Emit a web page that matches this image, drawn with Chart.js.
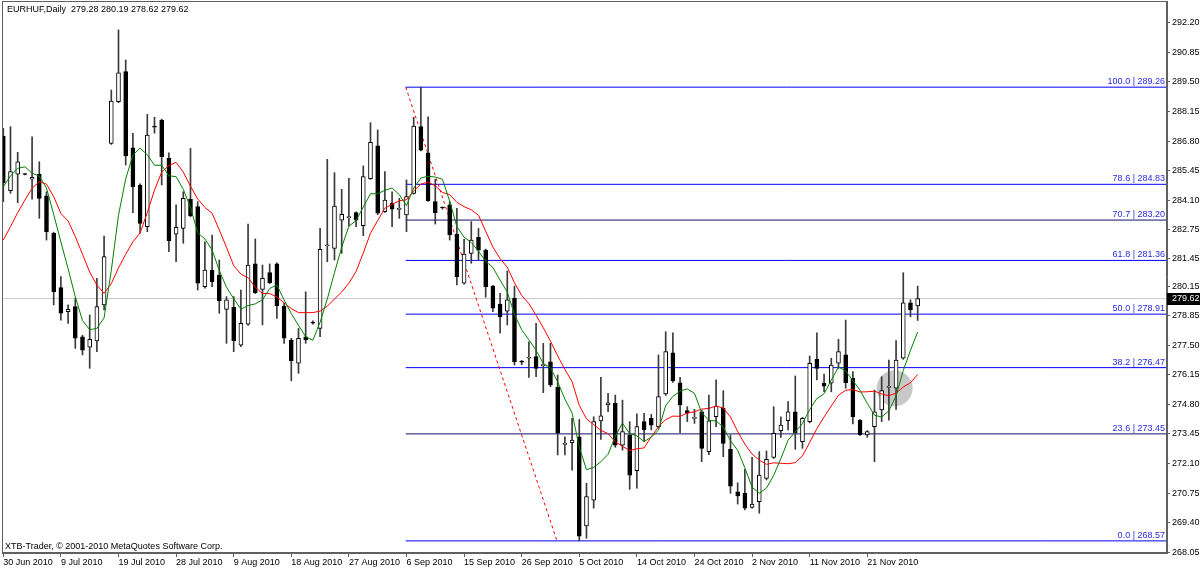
<!DOCTYPE html>
<html>
<head>
<meta charset="utf-8">
<script src="https://cdn.jsdelivr.net/npm/chart.js@4.4.0/dist/chart.umd.min.js"></script>
<style>
html, body { margin: 0; padding: 0; background: #fff; }
canvas { display: block; }
</style>
</head>
<body>
<canvas id="chart" width="1200" height="570"></canvas>
<script>
// EURHUF daily bars, one entry per bar (index 0 = 30 Jun 2010)
const open = [287.03,284.54,285.29,285.30,285.06,285.29,284.30,282.60,280.12,279.02,
  279.25,277.88,277.40,277.69,279.33,286.70,288.60,289.97,286.50,284.80,
  282.90,287.46,287.76,286.02,282.56,282.82,284.16,283.81,280.16,280.92,
  280.69,279.13,279.22,277.50,278.45,281.20,280.04,280.80,281.20,279.28,
  277.73,276.67,277.88,278.55,278.26,282.03,281.91,283.20,283.31,283.54,
  282.94,285.09,286.58,283.58,283.96,283.69,283.43,284.42,287.46,286.27,
  284.04,283.78,283.89,282.56,280.32,281.68,282.41,281.83,280.19,279.37,
  279.05,279.63,276.74,276.90,276.97,276.56,276.74,275.57,272.97,273.05,
  273.32,269.25,270.43,274.04,274.77,274.84,272.94,273.40,271.77,274.01,
  274.16,273.78,275.27,277.15,275.78,274.51,274.16,274.46,272.64,274.23,
  274.62,272.75,270.81,270.74,270.10,270.36,271.42,272.38,273.60,274.05,
  274.46,273.09,274.01,276.85,275.76,275.76,276.67,277.05,275.98,274.08,
  273.40,273.78,274.54,275.57,275.53,276.90,279.43,279.28];
const high = [287.38,287.46,286.29,285.32,287.00,285.86,284.49,282.65,280.62,279.33,
  279.63,277.95,278.87,280.54,282.47,289.13,291.87,290.50,287.16,284.85,
  288.02,287.89,287.80,286.27,283.89,284.49,286.47,284.04,282.21,282.52,
  281.38,279.71,279.71,280.01,283.02,282.34,281.15,281.20,281.25,279.40,
  277.81,278.26,279.93,278.60,282.82,285.97,285.36,284.60,285.10,283.58,
  285.67,287.64,287.31,285.41,284.49,284.19,285.03,287.89,289.26,287.91,
  285.06,283.80,284.04,283.74,282.32,283.13,282.82,281.88,280.22,279.86,
  280.88,280.19,276.80,277.65,278.49,277.58,277.58,276.13,273.32,274.16,
  274.11,271.20,274.23,276.03,275.30,275.22,274.99,274.01,274.36,274.39,
  274.34,277.05,278.11,278.06,276.03,274.69,274.57,274.54,275.22,275.91,
  275.42,273.40,271.22,271.83,272.38,272.64,272.67,274.69,274.23,274.92,
  276.09,274.20,277.00,278.06,276.18,276.90,277.76,278.64,276.29,274.10,
  273.60,275.45,276.06,276.82,277.70,280.80,279.56,280.19];
const low = [284.04,284.42,283.99,285.26,284.15,283.28,282.29,279.33,278.64,278.49,
  277.35,277.05,276.44,277.20,279.10,286.65,288.55,285.71,283.54,282.60,
  282.67,287.16,284.80,281.76,281.30,282.14,283.35,280.01,280.10,280.16,
  278.95,277.58,277.20,277.43,278.40,279.85,278.42,280.30,278.72,277.58,
  275.87,276.21,277.58,278.45,277.88,281.30,281.38,281.68,282.93,282.90,
  282.49,285.05,283.45,283.55,282.90,283.28,282.67,284.38,286.35,284.05,
  283.02,283.70,282.29,280.24,280.28,281.23,281.38,279.68,279.02,278.04,
  278.42,276.59,276.60,276.03,276.06,275.33,275.60,272.49,272.49,271.80,
  268.57,268.69,270.06,273.20,274.46,272.84,272.71,270.92,270.97,273.09,
  273.63,273.72,275.20,275.80,273.50,274.01,273.93,272.18,272.50,273.78,
  272.41,270.74,270.25,269.98,270.06,269.83,271.35,272.33,273.29,273.63,
  272.75,272.79,273.95,275.91,275.37,275.37,276.44,275.53,273.90,273.38,
  273.29,272.18,274.01,274.08,274.57,276.85,278.79,278.62];
const close = [284.89,285.41,285.86,285.28,285.15,284.19,282.67,279.93,278.95,279.13,
  277.81,277.27,277.76,279.25,281.53,288.63,289.92,286.12,284.72,283.05,
  287.08,287.44,286.09,282.26,282.87,284.19,283.39,280.32,280.92,280.39,
  279.52,279.56,277.70,278.49,281.15,279.89,280.54,280.34,279.28,277.81,
  276.79,277.81,277.73,278.50,281.87,282.06,283.84,283.46,283.33,283.20,
  285.18,286.75,283.51,284.11,283.70,283.72,284.27,287.49,286.39,284.08,
  283.54,283.75,282.52,280.62,281.65,282.29,281.83,280.16,279.18,278.79,
  279.56,276.74,276.72,276.92,276.44,276.58,275.68,273.48,272.99,273.17,
  268.79,270.59,274.01,274.27,274.87,272.94,273.55,271.57,273.78,273.63,
  273.85,275.15,277.20,275.87,274.77,274.39,274.18,272.79,274.05,274.72,
  273.02,271.07,270.62,270.06,270.25,271.57,272.29,273.48,273.85,274.46,
  273.50,274.16,276.67,276.44,275.63,276.59,277.20,275.78,274.23,273.40,
  273.55,274.46,275.42,275.60,276.82,279.43,279.10,279.62];

// moving average lines (green = fast, red = slow)
const maFast = [284.72,285.21,285.56,285.63,285.34,285.20,284.66,283.46,282.20,280.98,
  279.70,278.62,278.20,278.26,278.74,280.90,283.42,285.08,286.16,286.48,
  286.18,285.70,285.70,285.22,285.18,284.60,283.78,282.62,282.34,281.84,
  280.90,280.14,279.62,279.14,279.30,279.38,279.56,280.08,280.24,279.56,
  278.94,278.40,277.88,277.72,278.54,279.60,280.80,281.96,282.92,283.18,
  283.80,284.40,284.40,284.56,284.66,284.36,283.86,284.66,285.12,285.20,
  285.16,285.06,284.06,282.90,282.42,282.18,281.78,281.32,281.04,280.46,
  279.92,278.90,278.20,277.74,277.26,276.66,276.46,275.82,275.04,274.40,
  272.84,271.82,271.92,272.18,272.52,273.34,273.94,273.46,273.36,273.10,
  273.30,273.62,274.74,275.16,275.40,275.50,275.30,274.42,274.06,274.04,
  273.76,273.14,272.70,271.90,271.02,270.74,270.98,271.56,272.32,273.16,
  273.54,273.92,274.56,275.06,275.28,275.90,276.50,276.32,275.88,275.44,
  274.84,274.30,274.22,274.50,275.18,276.34,277.26,278.10];
const maSlow = [282.29,282.90,283.54,284.11,284.65,284.95,284.84,284.27,283.50,283.16,
  282.45,281.64,280.83,280.23,279.86,280.30,281.02,281.64,282.21,282.61,
  283.54,284.56,285.39,285.69,285.83,285.39,284.74,284.16,283.78,283.51,
  282.75,281.96,281.12,280.74,280.57,280.14,279.85,279.85,279.69,279.43,
  279.16,278.98,278.98,278.98,279.05,279.27,279.60,279.92,280.32,280.86,
  281.70,282.60,283.18,283.74,283.92,284.08,284.13,284.53,284.84,284.93,
  284.76,284.46,284.36,284.01,283.81,283.67,283.42,282.69,281.97,281.44,
  281.05,280.34,279.76,279.39,278.86,278.29,277.68,277.01,276.39,275.83,
  274.75,274.14,273.87,273.61,273.46,273.09,272.88,272.69,272.77,272.81,
  273.32,273.78,274.10,274.26,274.25,274.40,274.46,274.58,274.61,274.72,
  274.63,274.22,273.56,272.98,272.53,272.25,272.06,272.13,272.11,272.09,
  272.14,272.45,273.06,273.69,274.22,274.72,275.21,275.44,275.47,275.36,
  275.37,275.40,275.27,275.19,275.31,275.59,275.78,276.16];

const dateTickIdx = [0, 8, 16, 24, 32, 40, 48, 56, 64, 72, 80, 88, 96, 104, 112, 120];
const dateTickLabels = ['30 Jun 2010', '9 Jul 2010', '19 Jul 2010', '28 Jul 2010', '9 Aug 2010',
  '18 Aug 2010', '27 Aug 2010', '6 Sep 2010', '15 Sep 2010', '26 Sep 2010', '5 Oct 2010',
  '14 Oct 2010', '24 Oct 2010', '2 Nov 2010', '11 Nov 2010', '21 Nov 2010'];
const priceTicks = [268.05, 269.40, 270.75, 272.10, 273.45, 274.80, 276.15, 277.50, 278.85,
  280.15, 281.45, 282.75, 284.10, 285.45, 286.80, 288.15, 289.50, 290.85, 292.20];

// fibonacci retracement drawn from the 6 Sep high to the 5 Oct low
const fibLevels = [100.0, 78.6, 70.7, 61.8, 50.0, 38.2, 23.6, 0.0];
const fibPrices = [289.26, 284.83, 283.20, 281.36, 278.91, 276.47, 273.45, 268.57];
const fibAnchor = [55.9, 76.9];   // bar index of the two anchor points
const lastPrice = 279.62;
const marker = { x: 123.8, y: 275.53 };

const xMin = -0.18, xMax = 161.63;
const yMin = 268.018, yMax = 293.19;

Chart.defaults.font.family = '"Liberation Sans", Arial, sans-serif';
Chart.defaults.font.size = 9;
Chart.defaults.color = '#000';

const bars = open.map((v, i) => i);
const upDown = bars.map(i => close[i] >= open[i]);

// 70.7 and 23.6 show up darker than the other levels in the original
const fibSets = fibLevels.map((lv, k) => ({
  type: 'line',
  data: [{ x: fibAnchor[0], y: fibPrices[k] }, { x: xMax, y: fibPrices[k] }],
  borderColor: (lv === 70.7 || lv === 23.6) ? '#10106a' : '#0000ff',
  borderWidth: 1,
  pointRadius: 0,
  order: 15
}));

// drop the label overhang padding so the plot fills the canvas like the original
const noPad = s => { s.paddingLeft = 0; s.paddingRight = 0; s.paddingTop = 0; s.paddingBottom = 0; };

const overlay = {
  id: 'overlay',
  afterDatasetsDraw(chart) {
    const { ctx, chartArea: a, scales: { y } } = chart;
    ctx.save();
    ctx.font = '9px "Liberation Sans", Arial, sans-serif';
    ctx.textAlign = 'right';
    ctx.textBaseline = 'bottom';
    fibLevels.forEach((lv, k) => {
      const py = y.getPixelForValue(fibPrices[k]);
      ctx.fillStyle = '#2a2ae0';
      ctx.fillText(lv.toFixed(1) + ' | ' + fibPrices[k].toFixed(2), a.right - 2, py - 1);
    });
    ctx.textAlign = 'left';
    ctx.textBaseline = 'middle';
    ctx.fillStyle = '#000';
    const n = close.length - 1;
    ctx.fillText('EURHUF,Daily  ' + [open[n], high[n], low[n], close[n]].map(v => v.toFixed(2)).join(' '), 7, 10);
    ctx.fillText('XTB-Trader, \u00a9 2001-2010 MetaQuotes Software Corp.', 5, 547);
    ctx.strokeStyle = '#606060';
    ctx.lineWidth = 1;
    ctx.strokeRect(a.left + 0.5, a.top + 0.5, a.right - a.left - 1, a.bottom - a.top - 1);
    ctx.restore();
  },
  afterDraw(chart) {
    const { ctx, chartArea: a, scales: { y } } = chart;
    const py = y.getPixelForValue(lastPrice);
    ctx.save();
    ctx.fillStyle = '#000';
    ctx.fillRect(a.right, Math.round(py) - 6, chart.width - a.right, 12);
    ctx.fillStyle = '#fff';
    ctx.font = '9px "Liberation Sans", Arial, sans-serif';
    ctx.textBaseline = 'middle';
    ctx.fillText(lastPrice.toFixed(2), a.right + 5, Math.round(py));
    ctx.restore();
  }
};

new Chart(document.getElementById('chart'), {
  type: 'bar',
  data: {
    datasets: [
      {
        type: 'bar',
        data: bars.map(i => ({ x: i, y: [open[i], close[i]] })),
        backgroundColor: bars.map(i => upDown[i] ? '#ffffff' : '#000000'),
        borderColor: '#000',
        borderWidth: 1,
        borderSkipped: false,
        barThickness: 4,
        minBarLength: 1,
        grouped: false,
        order: 9
      },
      {
        type: 'bar',
        data: bars.map(i => ({ x: i, y: [low[i], high[i]] })),
        backgroundColor: '#3a3a3a',
        barThickness: 1,
        grouped: false,
        order: 10
      },
      {
        type: 'line',
        data: bars.map(i => ({ x: i, y: maSlow[i] })),
        borderColor: '#ff0000',
        borderWidth: 1,
        pointRadius: 0,
        order: 5
      },
      {
        type: 'line',
        data: bars.map(i => ({ x: i, y: maFast[i] })),
        borderColor: '#008000',
        borderWidth: 1,
        pointRadius: 0,
        order: 4
      },
      {
        type: 'line',
        data: [{ x: xMin, y: lastPrice }, { x: xMax, y: lastPrice }],
        borderColor: '#c8c8c8',
        borderWidth: 1,
        pointRadius: 0,
        order: 25
      },
      ...fibSets,
      {
        type: 'line',
        data: [{ x: fibAnchor[0], y: fibPrices[0] }, { x: fibAnchor[1], y: fibPrices[fibPrices.length - 1] }],
        borderColor: '#ff0000',
        borderWidth: 1,
        borderDash: [3, 3],
        pointRadius: 0,
        order: 14
      },
      {
        type: 'scatter',
        data: [marker],
        pointRadius: 18,
        pointBackgroundColor: '#c8c8c8',
        pointBorderWidth: 0,
        order: 30
      }
    ]
  },
  options: {
    responsive: false,
    animation: false,
    layout: { autoPadding: false, padding: { left: 2, top: 1, right: 0, bottom: 0 } },
    plugins: { legend: { display: false }, tooltip: { enabled: false } },
    scales: {
      x: {
        type: 'linear',
        offset: false,
        min: xMin,
        max: xMax,
        afterBuildTicks: s => { s.ticks = dateTickIdx.map(v => ({ value: v })); },
        afterFit: s => { s.height = 17; noPad(s); },
        ticks: {
          autoSkip: false,
          maxRotation: 0,
          align: 'start',
          padding: 0,
          callback: (v, idx) => dateTickLabels[idx]
        },
        grid: { offset: false, drawOnChartArea: false, tickLength: 4, color: '#606060' },
        border: { color: '#606060' }
      },
      y: {
        position: 'right',
        min: yMin,
        max: yMax,
        afterBuildTicks: s => { s.ticks = priceTicks.map(v => ({ value: v })); },
        afterFit: s => { s.width = 33; noPad(s); },
        ticks: { padding: 2, autoSkip: false, callback: v => v.toFixed(2) },
        grid: { drawOnChartArea: false, tickLength: 3, color: '#606060' },
        border: { color: '#606060' }
      }
    }
  },
  plugins: [overlay]
});
</script>
</body>
</html>
